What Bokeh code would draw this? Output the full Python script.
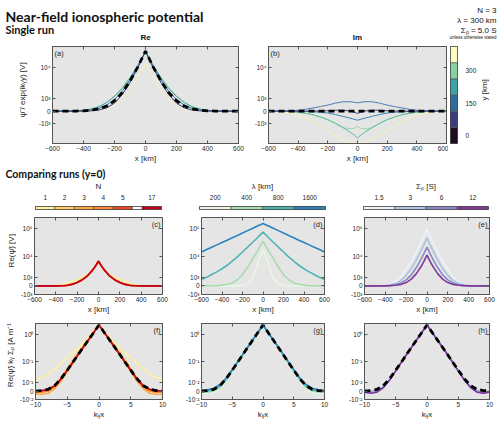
import numpy as np
from bokeh.plotting import figure
from bokeh.layouts import column, row
from bokeh.models import LinearAxis, FixedTicker, CustomJSTickFormatter, Label, Range1d
from bokeh.embed import file_html
from bokeh.resources import INLINE

# ---------------------------------------------------------------- data
# half profiles (x >= 0); every profile is symmetric about x = 0
x_km = [0, 25, 50, 100, 150, 200, 250, 300, 350, 400, 450, 500, 550, 600]
kx = [0, 1, 2, 3, 4, 5, 6, 7, 8, 9, 10]

# single run, N = 3, lambda = 300 km, Sigma_P = 5 S
y_levels = [0, 75, 150, 225, 300, 375]
y_colors = ["#1f0d1f", "#3b3a7d", "#2f6ca0", "#3fa3a5", "#88d2a2", "#fcfbc3"]

re_y0 = [27000, 17000, 10500, 4300, 1800, 780, 330, 140, 55, 20, 7, 2, 0.5, 0]
re_y75 = [27000, 16500, 10000, 3900, 1500, 560, 200, 65, 18, 4, 0, 0, 0, 0]
re_y150 = [26500, 17000, 10800, 4600, 2000, 900, 400, 170, 70, 25, 8, 2, 0, 0]
re_y225 = [26000, 17500, 11500, 5300, 2500, 1250, 600, 280, 120, 50, 18, 5, 1, 0]
re_y300 = [25000, 17000, 11500, 5500, 2700, 1350, 650, 300, 130, 55, 20, 6, 1, 0]
re_y375 = [13000, 8500, 5500, 2000, 900, 400, 150, 50, 15, 4, 1, 0, 0, 0]

im_y0 = [0, 0, 0, 0, 0, 0, 0, 0, 0, 0, 0, 0, 0, 0]
im_dip = [-130, -60, 10, 60, 50, 25, 10, 3, 0, 0, 0, 0, 0, 0]
im_hump = [590, 640, 690, 680, 560, 400, 290, 195, 110, 54, 20, 5, 1, 0]
im_small_v = [-650, -560, -470, -330, -200, -110, -60, -35, -15, -5, 0, 0, 0, 0]
im_kinked = [-1300, -1600, -1650, -1500, -970, -610, -385, -222, -121, -60, -22, -6, -1, 0]
im_big_v = [-3400, -2700, -2200, -1450, -950, -600, -380, -220, -120, -60, -22, -6, -1, 0]
im_y375 = [-4900, -4800, -4600, -3900, -2900, -2000, -1250, -760, -450, -240, -110, -50, -15, -5]

# comparing runs at y = 0 : number of terms N
n_values = ["1", "2", "3", "4", "5", "17"]
n_colors = ["#fdf0a0", "#fdcd60", "#fca745", "#f88b3b", "#ee4a27", "#c0001f"]
re_n = [
    [6000, 4300, 3000, 1600, 1000, 700, 420, 220, 100, 40, 12, 3, 0, 0],
    [6200, 4200, 2900, 1400, 750, 380, 170, 65, 20, 5, 1, 0, 0, 0],
    [6300, 4200, 2850, 1350, 680, 330, 140, 48, 12, 2, 0, 0, 0, 0],
    [6300, 4200, 2800, 1300, 650, 320, 130, 42, 10, 2, 0, 0, 0, 0],
    [6300, 4200, 2800, 1300, 650, 320, 130, 40, 10, 2, 0, 0, 0, 0],
    [6300, 4200, 2800, 1300, 650, 320, 130, 40, 10, 2, 0, 0, 0, 0],
]
norm_ref = [2.2, 1.05, 0.5, 0.235, 0.105, 0.045, 0.017, 0.0055, 0.0015, 0.0004, 0.0]
norm_n = [
    [2.1, 1.2, 0.65, 0.38, 0.23, 0.15, 0.085, 0.05, 0.03, 0.02, 0.014],
    [2.2, 1.1, 0.55, 0.28, 0.13, 0.055, 0.018, 0.004, 0.0, -0.001, -0.001],
    [2.2, 1.05, 0.5, 0.235, 0.1, 0.04, 0.012, 0.002, -0.002, -0.003, -0.003],
    [2.2, 1.05, 0.5, 0.235, 0.105, 0.043, 0.015, 0.004, 0.0, -0.001, -0.001],
    [2.2, 1.05, 0.5, 0.235, 0.105, 0.045, 0.016, 0.005, 0.001, 0.0, 0.0],
    [2.2, 1.05, 0.5, 0.235, 0.105, 0.045, 0.017, 0.0055, 0.0015, 0.0004, 0.0],
]

# wavelength lambda [km]
lam_values = ["200", "400", "800", "1600"]
lam_colors = ["#e9f6e5", "#a8dcae", "#50b4b0", "#2b83ba"]
re_lam = [
    [18000, 9700, 5200, 900, 200, 50, 10, 2, 0, 0, 0, 0, 0, 0],
    [35700, 24700, 17000, 8200, 3500, 1500, 650, 290, 130, 70, 25, 8, 2, 0],
    [77000, 62000, 50000, 33000, 22000, 14500, 9500, 6400, 4300, 3000, 2100, 1500, 1000, 675],
    [153000, 140000, 128000, 104000, 86000, 70600, 58000, 47900, 39000, 32300, 26500, 21800, 17800, 14500],
]
norm_lam = [
    [2.2, 1.05, 0.5, 0.235, 0.1, 0.04, 0.012, 0.002, -0.001, -0.002, -0.002],
    [2.2, 1.05, 0.5, 0.235, 0.103, 0.042, 0.014, 0.003, 0.0, -0.001, -0.001],
    [2.2, 1.05, 0.5, 0.235, 0.105, 0.045, 0.016, 0.005, 0.001, 0.0, 0.0],
    [2.2, 1.06, 0.51, 0.24, 0.11, 0.048, 0.019, 0.007, 0.0025, 0.001, 0.0005],
]

# Pedersen conductance Sigma_P [S]
sig_values = ["1.5", "3", "6", "12"]
sig_colors = ["#eef2f8", "#a9c2de", "#8a8ac4", "#7f3a9a"]
re_sig = [
    [95000, 60000, 37000, 15000, 6300, 2700, 1100, 450, 180, 60, 20, 5, 1, 0],
    [47000, 29500, 18500, 7500, 3100, 1350, 560, 230, 90, 30, 10, 3, 0, 0],
    [22000, 13800, 8600, 3500, 1450, 630, 260, 105, 42, 15, 5, 1, 0, 0],
    [11000, 6900, 4300, 1750, 730, 310, 130, 52, 20, 7, 2, 0, 0, 0],
]
norm_sig = [
    [2.2, 1.05, 0.5, 0.235, 0.104, 0.043, 0.015, 0.004, 0.0005, -0.0005, -0.0005],
    [2.2, 1.05, 0.5, 0.235, 0.104, 0.043, 0.015, 0.0045, 0.0008, -0.0003, -0.0003],
    [2.2, 1.05, 0.5, 0.235, 0.104, 0.042, 0.014, 0.0035, -0.0005, -0.0015, -0.001],
    [2.2, 1.05, 0.5, 0.235, 0.104, 0.042, 0.014, 0.003, -0.001, -0.002, -0.001],
]

# axis ticks
x_ticks_km = [-600, -400, -200, 0, 200, 400, 600]
x_ticks_k = [-10, -5, 0, 5, 10]
yt_top = [-1e3, 0, 1e3, 1e4]
yt_top_lab = ["-10\u00b3", "0", "10\u00b3", "10\u2074"]
yt_mid = [-1e3, 0, 1e3, 1e4, 1e5]
yt_mid_lab = ["-10\u00b3", "0", "10\u00b3", "10\u2074", "10\u2075"]
yt_bot = [-1e-2, 0, 1e-2, 1e-1, 1e0]
yt_bot_lab = ["-10\u207b\u00b2", "0", "10\u207b\u00b2", "10\u207b\u00b9", "10\u2070"]

# ---------------------------------------------------------------- helpers
FONT = "Liberation Sans"
HEAD = "Lato"
BG = "#e5e5e5"
EDGE = "#555555"
TXT = "#262626"


def slog(v, c):
    """signed log scale: sign(v) * log10(1 + |v| / 10**c)"""
    v = np.asarray(v, dtype=float)
    return np.sign(v) * np.log10(1.0 + np.abs(v) / 10.0 ** c)


def mirror(xh, yh):
    xh = np.asarray(xh, dtype=float)
    yh = np.asarray(yh, dtype=float)
    return np.concatenate([-xh[:0:-1], xh]), np.concatenate([yh[:0:-1], yh])


def lookup_formatter(pos, labels):
    return CustomJSTickFormatter(args=dict(pos=[float(p) for p in pos], lab=list(labels)), code="""
        let best = 0, d = Infinity;
        for (let i = 0; i < pos.length; i++) {
            const e = Math.abs(pos[i] - tick);
            if (e < d) { d = e; best = i; }
        }
        return lab[best];
    """)


def style_axis(ax, labels=True):
    ax.major_tick_in = 3
    ax.major_tick_out = 0
    ax.minor_tick_line_color = None
    ax.axis_line_color = EDGE
    ax.major_tick_line_color = EDGE
    ax.major_label_text_font = FONT
    ax.major_label_text_font_size = "6.5px" if labels else "0px"
    ax.major_label_text_color = TXT if labels else None
    ax.major_label_standoff = 2 if labels else 0
    ax.axis_label_text_font = FONT
    ax.axis_label_text_font_size = "8px"
    ax.axis_label_text_font_style = "normal"
    ax.axis_label_text_color = TXT
    ax.axis_label_standoff = 0


def panel(width, height, borders, xr, xticks, yr, c, yticks, ylabels,
          xlabel, letter=None, letter_left=False):
    lo, hi = slog(yr, c)
    p = figure(width=width, height=height, x_range=Range1d(*xr), y_range=Range1d(lo, hi),
               output_backend="svg", toolbar_location=None, title=None,
               min_border_left=borders[0], min_border_right=borders[1],
               min_border_top=borders[2], min_border_bottom=borders[3])
    p.background_fill_color = BG
    p.border_fill_color = "white"
    p.outline_line_color = EDGE
    p.grid.visible = False
    ypos = list(slog(yticks, c))
    p.xaxis.ticker = FixedTicker(ticks=xticks)
    p.yaxis.ticker = FixedTicker(ticks=ypos)
    p.yaxis.formatter = lookup_formatter(ypos, ylabels)
    for ax in p.xaxis + p.yaxis:
        style_axis(ax)
    p.xaxis.axis_label = xlabel
    top = LinearAxis(ticker=FixedTicker(ticks=xticks))
    right = LinearAxis(ticker=FixedTicker(ticks=ypos))
    style_axis(top, labels=False)
    style_axis(right, labels=False)
    p.add_layout(top, "above")
    p.add_layout(right, "right")
    if letter:
        if letter_left:
            lab = Label(x=xr[0], y=hi, text=letter, x_offset=2, y_offset=-2,
                        text_align="left", text_baseline="top")
        else:
            lab = Label(x=xr[1], y=hi, text=letter, x_offset=-2, y_offset=-2,
                        text_align="right", text_baseline="top")
        lab.text_font = FONT
        lab.text_font_size = "7.5px"
        lab.text_color = TXT
        p.add_layout(lab)
    return p


def curve(p, xh, yh, c, color, width, dash="solid"):
    xs, ys = mirror(xh, yh)
    p.line(xs, slog(ys, c), line_color=color, line_width=width, line_dash=dash)


def text_fig(width, height):
    t = figure(width=width, height=height, x_range=Range1d(0, width), y_range=Range1d(height, 0),
               output_backend="svg", toolbar_location=None, title=None,
               x_axis_location=None, y_axis_location=None,
               min_border_left=0, min_border_right=0, min_border_top=0, min_border_bottom=0)
    t.grid.visible = False
    t.outline_line_color = None
    t.background_fill_color = "white"
    t.border_fill_color = "white"
    return t


def add_text(t, x, y, text, size, font=FONT, style="normal", align="left", color="#111111",
             angle=0, baseline="alphabetic"):
    t.add_layout(Label(x=x, y=y, text=text, text_font=font, text_font_size=size,
                       text_font_style=style, text_align=align, text_baseline=baseline,
                       text_color=color, angle=angle, angle_units="deg"))


def y_title(width, height, x, y, text):
    # rotated axis title placed beside a panel
    t = text_fig(width, height)
    add_text(t, x, y, text, "8px", FONT, align="center", color=TXT, angle=90, baseline="middle")
    return t


def hbar(width, height, borders, labels, colors, title, gap_after=None):
    # horizontal discrete colour bar, equal cells (optionally a half-width white gap)
    lefts, rights, cols, centers = [], [], [], []
    pos = 0.0
    for i, (lab, col) in enumerate(zip(labels, colors)):
        lefts.append(pos); rights.append(pos + 1); cols.append(col); centers.append(pos + 0.5)
        pos += 1
        if gap_after is not None and i == gap_after:
            lefts.append(pos); rights.append(pos + 0.5); cols.append("white")
            pos += 0.5
    b = figure(width=width, height=height, x_range=Range1d(0, pos), y_range=Range1d(0, 1),
               output_backend="svg", toolbar_location=None, title=None,
               x_axis_location=None, y_axis_location=None,
               min_border_left=borders[0], min_border_right=borders[1],
               min_border_top=borders[2], min_border_bottom=borders[3])
    b.grid.visible = False
    b.outline_line_color = "#444444"
    b.border_fill_color = "white"
    b.quad(left=lefts, right=rights, bottom=0, top=1, fill_color=cols, line_color="#555555", line_width=0.7)
    ax = LinearAxis(ticker=FixedTicker(ticks=centers), formatter=lookup_formatter(centers, labels))
    ax.axis_line_color = None
    ax.major_tick_line_color = None
    ax.minor_tick_line_color = None
    ax.major_label_text_font = FONT
    ax.major_label_text_font_size = "6.5px"
    ax.major_label_text_color = TXT
    ax.major_label_standoff = 1
    ax.axis_label = title
    ax.axis_label_text_font = FONT
    ax.axis_label_text_font_size = "8px"
    ax.axis_label_text_font_style = "normal"
    ax.axis_label_text_color = TXT
    ax.axis_label_standoff = 1
    b.add_layout(ax, "above")
    return b


# ---------------------------------------------------------------- header
head = text_fig(500, 42)
add_text(head, 5, 16, "Near-field ionospheric potential", "14px", HEAD, "bold")
add_text(head, 5, 28.5, "Single run", "11px", HEAD, "bold")
add_text(head, 145, 37, "Re", "8px", FONT, "bold", "center")
add_text(head, 357, 37, "Im", "8px", FONT, "bold", "center")
add_text(head, 496, 10, "N = 3", "8px", FONT, align="right")
add_text(head, 496, 20, "\u03bb = 300 km", "8px", FONT, align="right")
add_text(head, 496, 30, "\u03a3\u209a = 5.0 S", "8px", FONT, align="right")
add_text(head, 496, 37, "unless otherwise stated", "4.5px", FONT, align="right")

# ---------------------------------------------------------------- single run
ya = y_title(30, 123, 22, 55, "\u03c8\u0303 / exp(ik\u1d67y) [V]")
pa = panel(216, 123, (22, 8, 4, 17), (-600, 600), x_ticks_km, (-5e3, 3.5e4), 3,
           yt_top, yt_top_lab, "x [km]", "(a)", True)
for vals, col in [(re_y375, "#f5f3b6"), (re_y300, "#8fd3a6"), (re_y225, "#48aaa6"),
                  (re_y150, y_colors[2]), (re_y75, y_colors[1])]:
    curve(pa, x_km, vals, 3, col, 1)
curve(pa, x_km, re_y0, 3, "black", 2.8, "6 4")

pb = panel(202, 123, (22, 2, 4, 17), (-600, 600), x_ticks_km, (-5e3, 3.5e4), 3,
           yt_top, yt_top_lab, "x [km]", "(b)", True)
for vals, col in [(im_y375, "#f5f3b6"), (im_kinked, "#9fd8a8"), (im_big_v, "#5cbd9c"),
                  (im_small_v, "#3a82b8"), (im_hump, "#4d7db5"), (im_dip, "#45458a")]:
    curve(pb, x_km, vals, 3, col, 1)
curve(pb, x_km, im_y0, 3, "black", 2.8, "6 4")

# vertical colour bar for y
cby = figure(width=33, height=123, x_range=Range1d(0, 1), y_range=Range1d(-37.5, 412.5),
             output_backend="svg", toolbar_location=None, title=None,
             x_axis_location=None, y_axis_location=None,
             min_border_left=2, min_border_right=24, min_border_top=4, min_border_bottom=17)
cby.grid.visible = False
cby.outline_line_color = "#444444"
cby.border_fill_color = "white"
cby.quad(left=0, right=1, bottom=[v - 37.5 for v in y_levels], top=[v + 37.5 for v in y_levels],
         fill_color=y_colors, line_color="#555555", line_width=0.7)
yax = LinearAxis(ticker=FixedTicker(ticks=[0, 150, 300]))
yax.axis_line_color = None
yax.major_tick_line_color = None
yax.minor_tick_line_color = None
yax.major_label_text_font = FONT
yax.major_label_text_font_size = "6.5px"
yax.major_label_text_color = TXT
yax.major_label_standoff = 2
cby.add_layout(yax, "right")
cby_title = y_title(19, 123, 2.5, 55, "y [km]")

# ---------------------------------------------------------------- comparing runs
mid = text_fig(500, 16)
add_text(mid, 5, 8, "Comparing runs (y=0)", "10.5px", HEAD, "bold", baseline="middle")

cbn = hbar(174, 32, (35, 13, 20, 7), n_values, n_colors, "N", gap_after=4)
cbl = hbar(163, 32, (25, 12, 20, 7), lam_values, lam_colors, "\u03bb [km]")
cbs = hbar(163, 32, (26, 12, 20, 7), sig_values, sig_colors, "\u03a3\u209a [S]")

yc = y_title(16, 103, 10.5, 44.5, "Re(\u03c8\u0303) [V]")
pc = panel(158, 103, (18, 12, 4, 18), (-600, 600), x_ticks_km, (-1e3, 2.5e5), 3,
           yt_mid, yt_mid_lab, "x [km]", "(c)")
for vals, col in zip(re_n, n_colors):
    curve(pc, x_km, vals, 3, col, 1.6)
pd_ = panel(163, 103, (27, 13, 4, 18), (-600, 600), x_ticks_km, (-1e3, 2.5e5), 3,
            yt_mid, yt_mid_lab, "x [km]", "(d)")
for vals, col in zip(re_lam, lam_colors):
    curve(pd_, x_km, vals, 3, col, 1.6)
pe = panel(163, 103, (27, 11, 4, 18), (-600, 600), x_ticks_km, (-1e3, 2.5e5), 3,
           yt_mid, yt_mid_lab, "x [km]", "(e)")
for vals, col in zip(re_sig, sig_colors):
    curve(pe, x_km, vals, 3, col, 1.6)

yf = y_title(16, 113, 10, 45, "Re(\u03c8\u0303) k\u1d67 \u03a3\u209a [A m\u207b\u00b9]")
pf = panel(158, 113, (18, 12, 7, 30), (-10, 10), x_ticks_k, (-1e-2, 2.5), -2,
           yt_bot, yt_bot_lab, "k\u1d67x", "(f)")
for vals, col in zip(norm_n, n_colors):
    curve(pf, kx, vals, -2, col, 1.6)
curve(pf, kx, norm_ref, -2, "black", 2.8, "6 4")
pg = panel(163, 113, (27, 13, 7, 30), (-10, 10), x_ticks_k, (-1e-2, 2.5), -2,
           yt_bot, yt_bot_lab, "k\u1d67x", "(g)")
for vals, col in zip(norm_lam, lam_colors):
    curve(pg, kx, vals, -2, col, 1.6)
curve(pg, kx, norm_ref, -2, "black", 2.8, "6 4")
ph = panel(163, 113, (27, 11, 7, 30), (-10, 10), x_ticks_k, (-1e-2, 2.5), -2,
           yt_bot, yt_bot_lab, "k\u1d67x", "(h)")
for vals, col in zip(norm_sig, sig_colors):
    curve(ph, kx, vals, -2, col, 1.6)
curve(ph, kx, norm_ref, -2, "black", 2.8, "6 4")

layout = column(
    head,
    row(ya, pa, pb, cby, cby_title, spacing=0),
    mid,
    row(cbn, cbl, cbs, spacing=0),
    row(yc, pc, pd_, pe, spacing=0),
    row(yf, pf, pg, ph, spacing=0),
    spacing=0,
)

open("out.html", "w").write(file_html(layout, INLINE))
